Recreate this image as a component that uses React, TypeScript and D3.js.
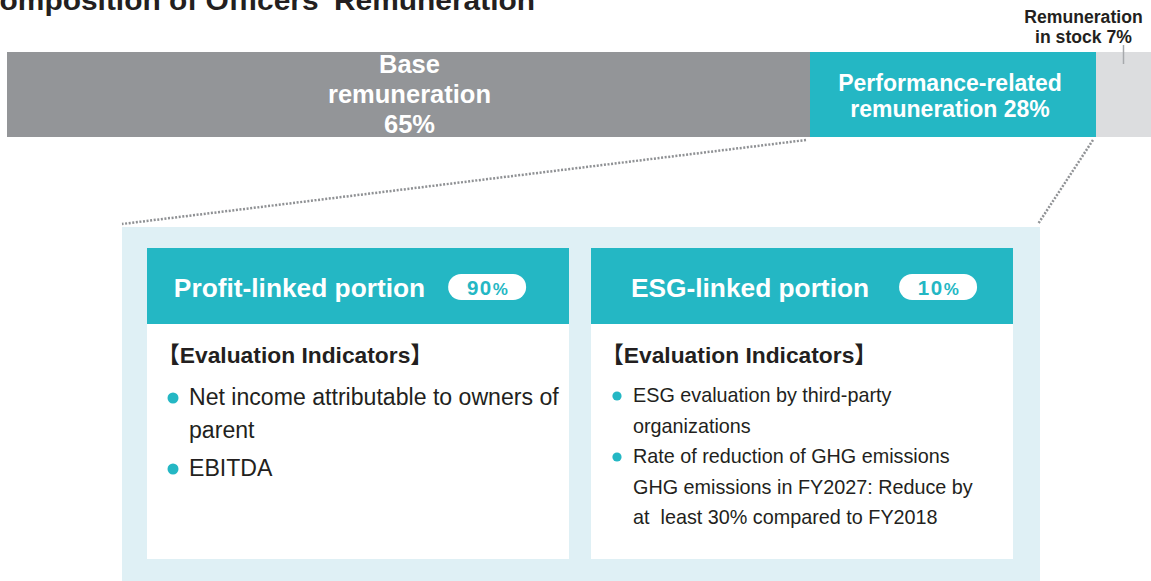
import { useRef, useEffect } from "react";
import * as d3 from "d3";

const TITLE = "Composition of Officers' Remuneration";

const SEGMENT_NAMES = ["Base remuneration", "Performance-related remuneration", "Remuneration in stock"];
const SEGMENT_SHARES = [65, 28, 7];
const SEGMENT_LABELS = [
  ["Base", "remuneration", "65%"],
  ["Performance-related", "remuneration 28%"],
  ["Remuneration", "in stock 7%"],
];

const PORTION_NAMES = ["Profit-linked portion", "ESG-linked portion"];
const PORTION_SHARES = [90, 10];
const INDICATOR_HEADING = "【Evaluation Indicators】";
const PROFIT_INDICATORS = [["Net income attributable to owners of", "parent"], ["EBITDA"]];
const ESG_INDICATORS = [
  ["ESG evaluation by third-party", "organizations"],
  ["Rate of reduction of GHG emissions", "GHG emissions in FY2027: Reduce by", "at  least 30% compared to FY2018"],
];
const INDICATORS = [PROFIT_INDICATORS, ESG_INDICATORS];

const W = 1151;
const H = 581;
const FONT = "'Liberation Sans', Arial, 'Noto Sans CJK JP', sans-serif";
const TEXT = "#231f20";
const TEAL = "#24b7c4";
const SEG_COLORS = ["#939598", TEAL, "#dcdddf"];
const PANEL = "#dff0f5";
const BAR = { top: 52, bottom: 137 };
const PANEL_BOX = { left: 122, right: 1040, top: 227 };
const CARD = { top: 248, header: 76, height: 311 };

// per card text styling (the two cards use different body sizes in the source)
const BODY_STYLE = [
  { size: 23.1, lineH: 33, itemGap: 5, dotR: 5.5, dotDy: -7, badgeGap: 23, shift: -8 },
  { size: 19.8, lineH: 30.5, itemGap: 0, dotR: 4.6, dotDy: -6, badgeGap: 30, shift: 2 },
];

export default function App() {
  const svgRef = useRef<SVGSVGElement>(null);

  useEffect(() => {
    if (!svgRef.current) return;
    const svg = d3.select(svgRef.current);
    svg.selectAll("*").remove();
    svg.attr("width", W).attr("height", H).style("font-family", FONT);

    // Title (cut off at the top/left like the source)
    svg.append("text")
      .attr("x", -22)
      .attr("y", 10)
      .attr("font-size", 27)
      .attr("font-weight", 700)
      .attr("fill", TEXT)
      .attr("textLength", 557)
      .attr("lengthAdjust", "spacingAndGlyphs")
      .text(TITLE);

    // Stacked bar: piecewise scale, segments are not drawn to proportion in the source
    const cum = d3.cumsum(SEGMENT_SHARES);
    const x = d3.scaleLinear().domain([0, ...cum]).range([7, 810, 1096, 1151]);
    const starts = [0, ...cum.slice(0, -1)];

    svg.append("g")
      .selectAll("rect")
      .data(SEGMENT_NAMES)
      .join("rect")
      .attr("x", (_, i) => x(starts[i]))
      .attr("y", BAR.top)
      .attr("width", (_, i) => x(cum[i]) - x(starts[i]))
      .attr("height", BAR.bottom - BAR.top)
      .attr("fill", (_, i) => SEG_COLORS[i]);

    const mid = (i: number) => (x(starts[i]) + x(cum[i])) / 2;

    // Base label
    const l0 = svg.append("text").attr("text-anchor", "middle").attr("fill", "#fff")
      .attr("font-size", 25.5).attr("font-weight", 700);
    SEGMENT_LABELS[0].forEach((t, k) => {
      l0.append("tspan").attr("x", mid(0) + 1).attr("y", BAR.top + 21 + k * 30).text(t);
    });

    // Performance label
    const l1 = svg.append("text").attr("text-anchor", "middle").attr("fill", "#fff")
      .attr("font-size", 23).attr("font-weight", 700);
    SEGMENT_LABELS[1].forEach((t, k) => {
      l1.append("tspan").attr("x", mid(1) - 3).attr("y", BAR.top + 39 + k * 26).text(t);
    });

    // Stock label above bar with leader
    const l2 = svg.append("text").attr("text-anchor", "middle").attr("fill", TEXT)
      .attr("font-size", 17.6).attr("font-weight", 700);
    SEGMENT_LABELS[2].forEach((t, k) => {
      l2.append("tspan").attr("x", mid(2) - 40).attr("y", 23 + k * 20).text(t);
    });
    svg.append("line")
      .attr("x1", mid(2)).attr("x2", mid(2))
      .attr("y1", 45).attr("y2", 64)
      .attr("stroke", "#a7a9ac").attr("stroke-width", 1.5);

    // Panel
    svg.append("rect")
      .attr("x", PANEL_BOX.left)
      .attr("y", PANEL_BOX.top)
      .attr("width", PANEL_BOX.right - PANEL_BOX.left)
      .attr("height", H - PANEL_BOX.top + 10)
      .attr("fill", PANEL);

    // Dotted connectors from the performance segment to the panel
    const conn = [
      [x(starts[1]) - 4, BAR.bottom + 3, PANEL_BOX.left, PANEL_BOX.top - 3],
      [x(cum[1]) - 3, BAR.bottom + 3, PANEL_BOX.right - 2, PANEL_BOX.top - 3],
    ];
    svg.append("g")
      .selectAll("line")
      .data(conn)
      .join("line")
      .attr("x1", (d) => d[0]).attr("y1", (d) => d[1])
      .attr("x2", (d) => d[2]).attr("y2", (d) => d[3])
      .attr("stroke", "#8f9194")
      .attr("stroke-width", 2.5)
      .attr("stroke-dasharray", "2,1.6");

    // Cards
    const band = d3.scaleBand<string>()
      .domain(PORTION_NAMES)
      .range([147, 1013])
      .paddingInner(22 / 444)
      .paddingOuter(0);
    const bw = band.bandwidth();

    PORTION_NAMES.forEach((name, i) => {
      const cx = band(name)!;
      const st = BODY_STYLE[i];
      const g = svg.append("g").attr("transform", `translate(${cx},${CARD.top})`);

      g.append("rect").attr("width", bw).attr("height", CARD.height).attr("fill", "#fff");
      g.append("rect").attr("width", bw).attr("height", CARD.header).attr("fill", TEAL);

      const title = g.append("text")
        .attr("y", 49)
        .attr("font-size", 26.3)
        .attr("font-weight", 700)
        .attr("fill", "#fff")
        .text(name);
      const tw = (title.node() as SVGTextElement).getComputedTextLength();
      const badgeW = 78;
      const x0 = (bw - (tw + st.badgeGap + badgeW)) / 2 + st.shift;
      title.attr("x", x0);

      const bx = x0 + tw + st.badgeGap;
      g.append("rect")
        .attr("x", bx).attr("y", 26)
        .attr("width", badgeW).attr("height", 26)
        .attr("rx", 13)
        .attr("fill", "#fff");
      const pct = g.append("text")
        .attr("x", bx + badgeW / 2 + 1)
        .attr("y", 46.5)
        .attr("text-anchor", "middle")
        .attr("fill", TEAL)
        .attr("font-weight", 700)
        .attr("letter-spacing", 1.5);
      pct.append("tspan").attr("font-size", 20.5).text(String(PORTION_SHARES[i]));
      pct.append("tspan").attr("font-size", 17).text("%");

      g.append("text")
        .attr("x", 10)
        .attr("y", 115)
        .attr("font-size", 22.8)
        .attr("font-weight", 700)
        .attr("fill", TEXT)
        .text(INDICATOR_HEADING);

      let y = i === 0 ? 157 : 154;
      INDICATORS[i].forEach((lines) => {
        g.append("circle")
          .attr("cx", 26)
          .attr("cy", y + st.dotDy)
          .attr("r", st.dotR)
          .attr("fill", TEAL);
        lines.forEach((ln) => {
          g.append("text")
            .attr("x", 42)
            .attr("y", y)
            .attr("font-size", st.size)
            .attr("fill", TEXT)
            .style("white-space", "pre")
            .text(ln);
          y += st.lineH;
        });
        y += st.itemGap;
      });
    });
  }, []);

  return (
    <div style={{ position: "absolute", left: 0, top: 0, width: W, height: H, overflow: "hidden", background: "#fff" }}>
      <svg ref={svgRef} style={{ display: "block" }} />
    </div>
  );
}
